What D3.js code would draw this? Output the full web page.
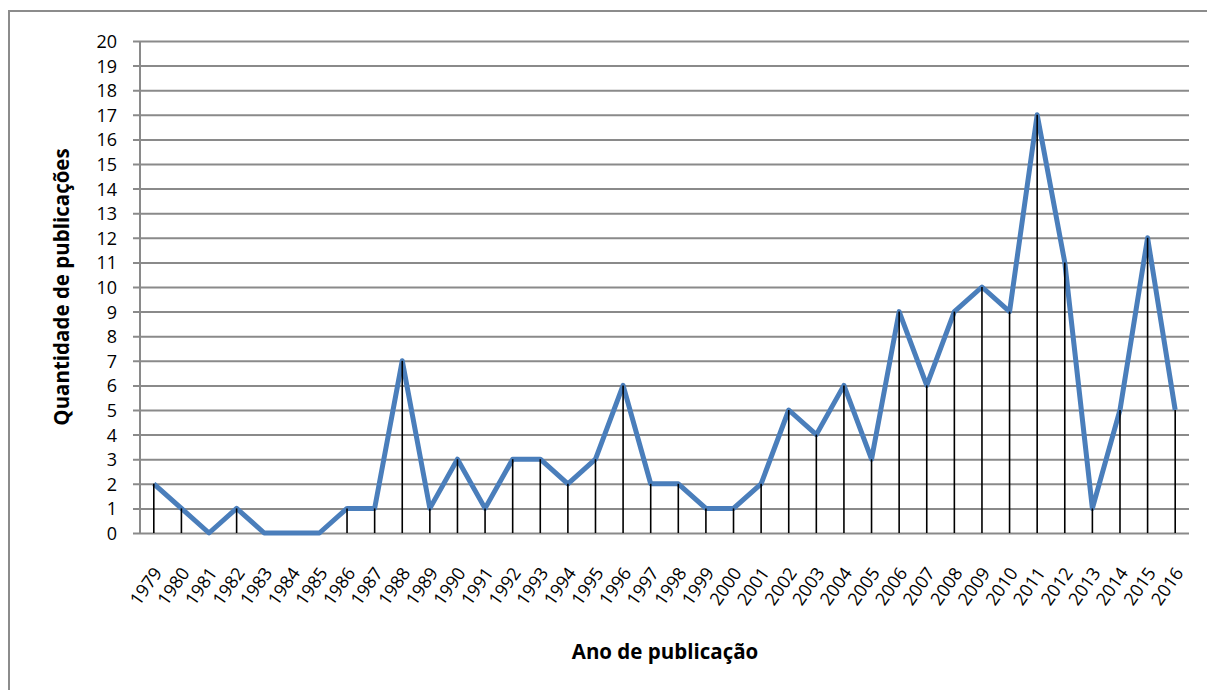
<!DOCTYPE html>
<html><head><meta charset="utf-8">
<script src="https://cdn.jsdelivr.net/npm/d3@7"></script>
<style>body{margin:0;background:#fff}svg{display:block}text{font-family:"Open Sans","Noto Sans",sans-serif;fill:#000}</style>
</head><body><svg width="1207" height="690"></svg>
<script>
const years = ["1979","1980","1981","1982","1983","1984","1985","1986","1987","1988","1989","1990","1991","1992","1993","1994","1995","1996","1997","1998","1999","2000","2001","2002","2003","2004","2005","2006","2007","2008","2009","2010","2011","2012","2013","2014","2015","2016"];
const counts = [2,1,0,1,0,0,0,1,1,7,1,3,1,3,3,2,3,6,2,2,1,1,2,5,4,6,3,9,6,9,10,9,17,11,1,5,12,5];
const yTicks = d3.range(0,21);
const xTitle = "Ano de publicação";
const yTitle = "Quantidade de publicações";

const svg = d3.select("svg");
const L=140, R=1189, T=41, B=533;
svg.append("rect").attr("x",9).attr("y",11).attr("width",1210).attr("height",690).attr("fill","none").attr("stroke","#8c8c8c").attr("stroke-width",2);

const x = d3.scaleBand().domain(years).range([L,R]);
const y = d3.scaleLinear().domain([0,20]).range([B,T]);

const yAxis = d3.axisLeft(y).tickValues(yTicks).tickSize(-(R-L)).tickPadding(23).tickFormat(d3.format("d"));
const gy = svg.append("g").attr("transform",`translate(${L},0)`).call(yAxis);
gy.select(".domain").remove();
gy.selectAll(".tick line").attr("stroke","#8a8a8a").attr("stroke-width",2).attr("x1",-7);
gy.selectAll(".tick text").attr("font-size",18).attr("fill","#000").attr("dy","0.36em");
svg.append("line").attr("x1",L).attr("x2",L).attr("y1",T).attr("y2",B).attr("stroke","#8a8a8a").attr("stroke-width",2);

const xAxis = d3.axisBottom(x).tickSize(0).tickPadding(0);
const gx = svg.append("g").attr("transform",`translate(0,${B})`).call(xAxis);
gx.select(".domain").remove();
gx.selectAll(".tick text").attr("font-size",18).attr("fill","#000")
  .attr("text-anchor","end").attr("dy",null).attr("y",0)
  .attr("transform","translate(9,40) rotate(-55)");

const cx = d => x(d)+x.bandwidth()/2;
const data = years.map((d,i)=>({year:d,v:counts[i]}));

svg.append("path").datum(data).attr("fill","none").attr("stroke","#4a7ebb").attr("stroke-width",5).attr("stroke-linejoin","round")
  .attr("d", d3.line().x(d=>cx(d.year)).y(d=>y(d.v)));

svg.append("g").selectAll("line").data(data.filter(d=>d.v>0)).join("line")
  .attr("x1",d=>cx(d.year)).attr("x2",d=>cx(d.year)).attr("y1",d=>y(d.v)).attr("y2",B)
  .attr("stroke","#000").attr("stroke-width",1.6);

svg.append("text").attr("x",665).attr("y",659).attr("text-anchor","middle").attr("font-size",20.5).attr("font-weight","bold").text(xTitle);
svg.append("text").attr("transform",`translate(69,287) rotate(-90)`).attr("text-anchor","middle").attr("font-size",20.5).attr("font-weight","bold").text(yTitle);
</script></body></html>
